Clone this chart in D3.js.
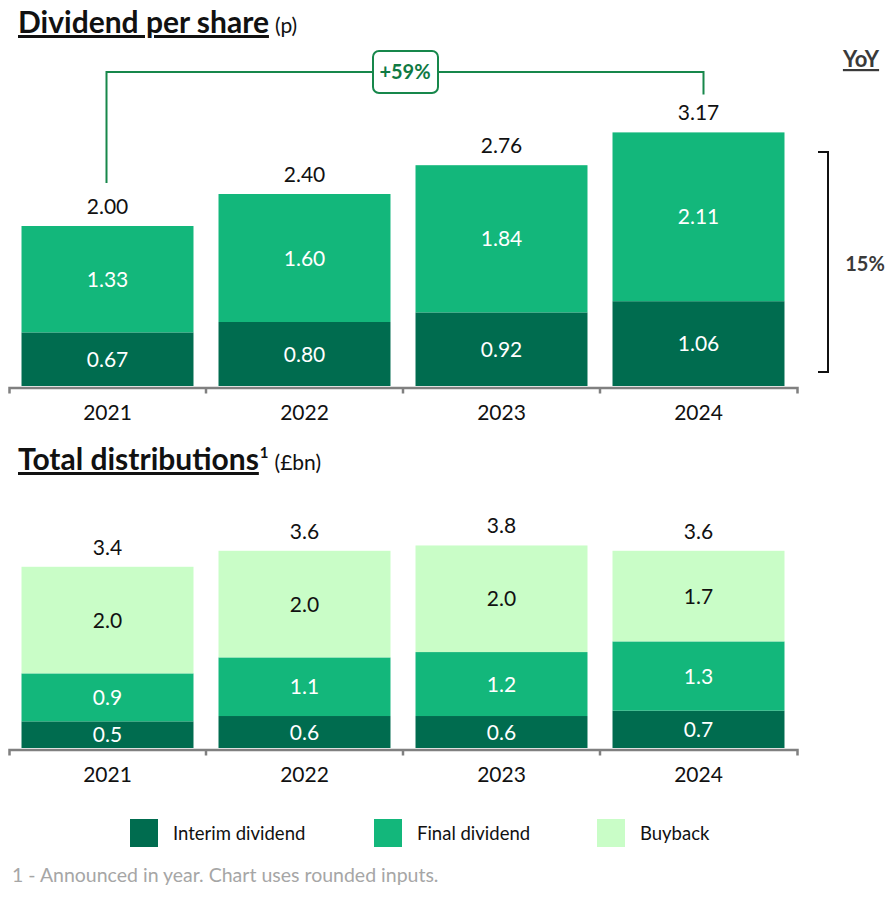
<!DOCTYPE html>
<html lang="en">
<head>
<meta charset="utf-8">
<title>Dividends and distributions</title>
<script src="https://cdn.jsdelivr.net/npm/d3@7"></script>
<style>
  body { margin: 0; background: #fff; }
  svg { display: block; font-family: Lato, "Open Sans", sans-serif; }
</style>
</head>
<body>
<div id="chart"></div>
<script>
// data
var years = ["2021", "2022", "2023", "2024"];
var dpsInterim = [0.67, 0.80, 0.92, 1.06];
var dpsFinal = [1.33, 1.60, 1.84, 2.11];
var dpsTotal = ["2.00", "2.40", "2.76", "3.17"];
var distInterim = [0.5, 0.6, 0.6, 0.7];
var distFinal = [0.9, 1.1, 1.2, 1.3];
var distBuyback = [2.0, 2.0, 2.0, 1.7];
var distTotal = ["3.4", "3.6", "3.8", "3.6"];
var growthLabel = "+59%";
var yoyLabel = "15%";
var seriesNames = ["Interim dividend", "Final dividend", "Buyback"];

var w = 894, h = 898;
var colors = ["#006c4f", "#13b77b", "#c9fdc7"];
var labelColors = ["#fff", "#fff", "#111"];
var lineGreen = "#17874b";

var svg = d3.select("#chart").append("svg")
    .attr("width", w)
    .attr("height", h);

var x = d3.scaleBand()
    .domain(years)
    .range([9, 797])
    .paddingInner(0.127)
    .paddingOuter(0.0635);

// draws one stacked panel, returns the y scale
function drawPanel(baseline, pxPerUnit, seriesList, totals, fmt) {
    var y = d3.scaleLinear()
        .domain([0, 4])
        .range([baseline, baseline - 4 * pxPerUnit]);

    var rows = years.map(function (yr, i) {
        var row = { year: yr };
        seriesList.forEach(function (s, k) { row["s" + k] = s[i]; });
        return row;
    });
    var keys = seriesList.map(function (s, k) { return "s" + k; });
    var stacked = d3.stack().keys(keys)(rows);

    var g = svg.append("g");
    stacked.forEach(function (layer, k) {
        g.selectAll(null)
            .data(layer)
            .enter()
            .append("rect")
            .attr("x", function (d) { return x(d.data.year); })
            .attr("y", function (d) { return y(d[1]); })
            .attr("width", x.bandwidth())
            .attr("height", function (d) { return y(d[0]) - y(d[1]); })
            .attr("fill", colors[k]);

        g.selectAll(null)
            .data(layer)
            .enter()
            .append("text")
            .attr("x", function (d) { return x(d.data.year) + x.bandwidth() / 2; })
            .attr("y", function (d) { return (y(d[0]) + y(d[1])) / 2; })
            .attr("dy", "0.36em")
            .attr("text-anchor", "middle")
            .attr("font-size", "21px")
            .attr("fill", labelColors[k])
            .text(function (d) { return fmt(d[1] - d[0]); });
    });

    var top = stacked[stacked.length - 1];
    g.selectAll(null)
        .data(top)
        .enter()
        .append("text")
        .attr("x", function (d) { return x(d.data.year) + x.bandwidth() / 2; })
        .attr("y", function (d) { return y(d[1]) - 12; })
        .attr("text-anchor", "middle")
        .attr("font-size", "21px")
        .attr("fill", "#111")
        .text(function (d, i) { return totals[i]; });

    // axis: labels from d3, band-edge ticks added by hand
    var axis = d3.axisBottom(x).tickSizeInner(0).tickSizeOuter(6).tickPadding(18);
    var ax = svg.append("g")
        .attr("transform", "translate(0," + (baseline + 1.5) + ")")
        .call(axis);
    ax.select(".domain").attr("stroke", "#808080").attr("stroke-width", 2.5);
    ax.selectAll("text")
        .attr("font-family", "Lato, sans-serif")
        .attr("font-size", "21px")
        .attr("fill", "#111");
    ax.selectAll(null)
        .data(years.slice(1))
        .enter()
        .append("line")
        .attr("x1", function (d) { return x(d) - x.step() * x.paddingInner() / 2; })
        .attr("x2", function (d) { return x(d) - x.step() * x.paddingInner() / 2; })
        .attr("y1", 0)
        .attr("y2", 6)
        .attr("stroke", "#808080")
        .attr("stroke-width", 2.5);

    return y;
}

var fmt2 = d3.format(".2f");
var fmt1 = d3.format(".1f");

var yTop = drawPanel(386, 80, [dpsInterim, dpsFinal], dpsTotal, fmt2);
var yBot = drawPanel(748, 53.3, [distInterim, distFinal, distBuyback], distTotal, fmt1);

// titles
function title(yPos, main, sup, unit) {
    var t = svg.append("text")
        .attr("x", 18)
        .attr("y", yPos)
        .attr("fill", "#111");
    t.append("tspan")
        .attr("font-size", "30px")
        .attr("font-weight", 700)
        .style("text-decoration", "underline")
        .text(main);
    var back = 0;
    if (sup) {
        t.append("tspan")
            .attr("font-size", "15px")
            .attr("font-weight", 700)
            .attr("dx", 1)
            .attr("dy", -12)
            .text(sup);
        back = 12;
    }
    t.append("tspan")
        .attr("font-size", "21px")
        .attr("dx", 6)
        .attr("dy", back)
        .text(unit);
}
title(33, "Dividend per share", null, "(p)");
title(470, "Total distributions", "1", "(£bn)");

// +59% connector between 2021 and 2024 totals
var i0 = 0, i3 = years.length - 1;
var xa = x(years[i0]) + x.bandwidth() / 2 - 1;
var xb = x(years[i3]) + x.bandwidth() / 2 + 5;
var yLine = 72;
var ya = yTop(dpsInterim[i0] + dpsFinal[i0]) - 43;
var yb = yTop(dpsInterim[i3] + dpsFinal[i3]) - 38;
svg.append("path")
    .attr("d", "M" + xa + "," + ya + "V" + yLine + "H" + xb + "V" + yb)
    .attr("fill", "none")
    .attr("stroke", lineGreen)
    .attr("stroke-width", 2);
var mid = (xa + xb) / 2;
svg.append("rect")
    .attr("x", mid - 32)
    .attr("y", yLine - 21)
    .attr("width", 65)
    .attr("height", 42)
    .attr("rx", 6)
    .attr("fill", "#fff")
    .attr("stroke", lineGreen)
    .attr("stroke-width", 2);
svg.append("text")
    .attr("x", mid)
    .attr("y", yLine)
    .attr("dy", "0.36em")
    .attr("text-anchor", "middle")
    .attr("font-size", "20px")
    .attr("font-weight", 700)
    .attr("fill", "#0f7a43")
    .text(growthLabel);

// YoY bracket on the right
svg.append("text")
    .attr("x", 861)
    .attr("y", 67)
    .attr("text-anchor", "middle")
    .attr("font-size", "22px")
    .attr("font-weight", 700)
    .attr("fill", "#3a3a3a")
    .style("text-decoration", "underline")
    .text("YoY");
svg.append("path")
    .attr("d", "M818,152H828V372H818")
    .attr("fill", "none")
    .attr("stroke", "#111")
    .attr("stroke-width", 2);
svg.append("text")
    .attr("x", 865)
    .attr("y", 264)
    .attr("dy", "0.36em")
    .attr("text-anchor", "middle")
    .attr("font-size", "20px")
    .attr("font-weight", 700)
    .attr("fill", "#3a3a3a")
    .text(yoyLabel);

// legend
var legendX = [130, 374, 597];
var lg = svg.selectAll(".legend")
    .data(seriesNames)
    .enter()
    .append("g")
    .attr("class", "legend")
    .attr("transform", function (d, i) { return "translate(" + legendX[i] + ",819)"; });
lg.append("rect")
    .attr("width", 28)
    .attr("height", 28)
    .attr("fill", function (d, i) { return colors[i]; });
lg.append("text")
    .attr("x", 43)
    .attr("y", 14)
    .attr("dy", "0.36em")
    .attr("font-size", "18.5px")
    .attr("fill", "#111")
    .text(function (d) { return d; });

// footnote
svg.append("text")
    .attr("x", 12)
    .attr("y", 882)
    .attr("font-size", "19.5px")
    .attr("fill", "#a6a6a6")
    .text("1 - Announced in year. Chart uses rounded inputs.");
</script>
</body>
</html>
